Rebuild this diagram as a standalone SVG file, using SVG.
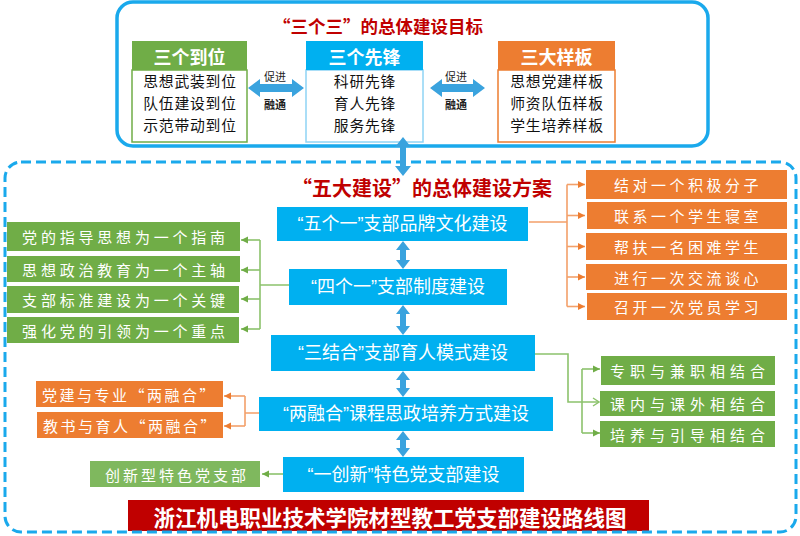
<svg xmlns="http://www.w3.org/2000/svg" width="800" height="536" viewBox="0 0 800 536">
<defs>
<style>
.cjk{font-family:"Noto Sans CJK SC","Noto Sans",sans-serif}
.mix{font-family:"Liberation Sans","Noto Sans CJK SC",sans-serif}
.title{font-weight:bold;fill:#C00000}
.hdr{font-size:18px;fill:#fff;font-weight:bold;text-anchor:middle;dominant-baseline:central}
.body{font-size:14.8px;fill:#111;text-anchor:middle;dominant-baseline:central;letter-spacing:0.8px}
.blue{fill:#00B0F0}
.btxt{font-size:18px;fill:#fff;text-anchor:middle;dominant-baseline:central}
.side{font-size:15px;fill:#fff;text-anchor:middle;dominant-baseline:central}
.arr{fill:#3AA3DE}
.gl{fill:none;stroke:#8CC26C;stroke-width:1.6}
.ol{fill:none;stroke:#F3A06A;stroke-width:1.6}
.small{font-size:11px;fill:#222;text-anchor:middle;dominant-baseline:central}
</style>
<marker id="ga" markerWidth="8" markerHeight="8" refX="7" refY="4" orient="auto" markerUnits="userSpaceOnUse"><path d="M0,0.5 L7,4 L0,7.5 z" fill="#70AD47"/></marker>
<marker id="gc" markerWidth="8" markerHeight="10" refX="7" refY="5" orient="auto" markerUnits="userSpaceOnUse"><path d="M1,1 L7,5 L1,9" fill="none" stroke="#8CC26C" stroke-width="1.4"/></marker>
<marker id="oa" markerWidth="8" markerHeight="8" refX="7" refY="4" orient="auto" markerUnits="userSpaceOnUse"><path d="M0,0.5 L7,4 L0,7.5 z" fill="#ED7D31"/></marker>
</defs>
<rect width="800" height="536" fill="#fff"/>

<!-- top section -->
<g id="top-frame">
<rect x="117" y="2" width="591" height="144" rx="16" fill="none" stroke="#1AA9EC" stroke-width="3.5"/>
<text x="378" y="25" class="cjk title" font-size="17.5" text-anchor="middle" dominant-baseline="central">“三个三”的总体建设目标</text>
</g>

<g id="box-daowei" class="cjk">
<rect x="132" y="70" width="115" height="72" fill="#fff" stroke="#70AD47" stroke-width="1.5"/>
<rect x="132" y="41" width="115" height="29" fill="#70AD47"/>
<text x="189.5" y="55.5" class="hdr">三个到位</text>
<text x="190" y="80" class="body">思想武装到位</text>
<text x="190" y="102" class="body">队伍建设到位</text>
<text x="190" y="124" class="body">示范带动到位</text>
</g>

<g id="box-xianfeng" class="cjk">
<rect x="306" y="70" width="117" height="72" fill="#fff" stroke="#8FD4F5" stroke-width="1.5"/>
<rect x="306" y="41" width="117" height="29" fill="#00B0F0"/>
<text x="364.5" y="55.5" class="hdr">三个先锋</text>
<text x="365" y="80" class="body">科研先锋</text>
<text x="365" y="102" class="body">育人先锋</text>
<text x="365" y="124" class="body">服务先锋</text>
</g>

<g id="box-yangban" class="cjk">
<rect x="498" y="70" width="117" height="72" fill="#fff" stroke="#ED7D31" stroke-width="1.5"/>
<rect x="498" y="41" width="117" height="29" fill="#ED7D31"/>
<text x="556.5" y="55.5" class="hdr">三大样板</text>
<text x="557" y="80" class="body">思想党建样板</text>
<text x="557" y="102" class="body">师资队伍样板</text>
<text x="557" y="124" class="body">学生培养样板</text>
</g>

<!-- lower frame -->
<g id="banner">
<rect x="128" y="500" width="521" height="31" fill="#C00000"/>
<text x="390" y="516" class="cjk" font-size="21.5" font-weight="bold" fill="#fff" text-anchor="middle" dominant-baseline="central">浙江机电职业技术学院材型教工党支部建设路线图</text>
</g>
<g id="bottom-frame">
<rect x="5" y="162" width="791" height="370" rx="16" fill="none" stroke="#1AA9EC" stroke-width="3" stroke-dasharray="10 5"/>
<text x="422" y="187" class="cjk title" font-size="20" text-anchor="middle" dominant-baseline="central">“五大建设”的总体建设方案</text>
</g>

<!-- connectors -->
<g id="connectors">
<polygon class="arr" points="248,88 260,79 260,84 292,84 292,79 304,88 292,97 292,92 260,92 260,97"/>
<text x="275" y="76" class="cjk small">促进</text>
<text x="275" y="104" class="cjk small" font-weight="bold">融通</text>
<polygon class="arr" points="430,88 442,79 442,84 473,84 473,79 485,88 473,97 473,92 442,92 442,97"/>
<text x="456" y="76" class="cjk small">促进</text>
<text x="456" y="104" class="cjk small" font-weight="bold">融通</text>

<polygon class="arr" points="403,137 411,147 406,147 406,166 411,166 403,176 395,166 400,166 400,147 395,147"/>
<polygon class="arr" points="403,241 410,250 406,250 406,260 410,260 403,269 396,260 400,260 400,250 396,250"/>
<polygon class="arr" points="403,305 410,314 406,314 406,326 410,326 403,335 396,326 400,326 400,314 396,314"/>
<polygon class="arr" points="403,371 410,380 406,380 406,388 410,388 403,397 396,388 400,388 400,380 396,380"/>
<polygon class="arr" points="403,431 410,440 406,440 406,448 410,448 403,457 396,448 400,448 400,440 396,440"/>

<!-- five-one orange -->
<path class="ol" d="M529,222 H567 M567,184.5 V306.5"/>
<path class="ol" d="M567,184.5 H585" marker-end="url(#oa)"/>
<path class="ol" d="M567,215.5 H585" marker-end="url(#oa)"/>
<path class="ol" d="M567,246.5 H585" marker-end="url(#oa)"/>
<path class="ol" d="M567,277 H585" marker-end="url(#oa)"/>
<path class="ol" d="M567,306.5 H585" marker-end="url(#oa)"/>

<!-- four-one green -->
<path class="gl" d="M289,285 H260 M260,240 V329"/>
<path class="gl" d="M260,240 H241" marker-end="url(#ga)"/>
<path class="gl" d="M260,270 H241" marker-end="url(#ga)"/>
<path class="gl" d="M260,299 H241" marker-end="url(#ga)"/>
<path class="gl" d="M260,329 H241" marker-end="url(#ga)"/>

<!-- three combine green -->
<path class="gl" d="M535,354 H568 V402 H599" marker-end="url(#gc)"/>
<path class="gl" d="M582,369 V433"/>
<path class="gl" d="M582,369 H600" marker-end="url(#ga)"/>
<path class="gl" d="M582,433 H600" marker-end="url(#ga)"/>

<!-- two fusion orange -->
<path class="ol" d="M259,413 H245 M245,396 V426"/>
<path class="ol" d="M245,396 H224" marker-end="url(#oa)"/>
<path class="ol" d="M245,426 H224" marker-end="url(#oa)"/>

<!-- one innovation -->
<path class="gl" d="M283,474 H262" marker-end="url(#ga)" stroke="#B5D9A0"/>
</g>

<!-- main blue nodes -->
<g id="n-wugeyi" class="mix">
<rect x="277" y="207" width="251" height="34" class="blue"/>
<text x="402.5" y="224" class="btxt">“五个一”支部品牌文化建设</text>
</g>
<g id="n-sigeyi" class="mix">
<rect x="289" y="269" width="218" height="36" class="blue"/>
<text x="398" y="287" class="btxt">“四个一”支部制度建设</text>
</g>
<g id="n-sanjiehe" class="mix">
<rect x="271" y="335" width="264" height="36" class="blue"/>
<text x="403" y="353" class="btxt">“三结合”支部育人模式建设</text>
</g>
<g id="n-liangronghe" class="mix">
<rect x="259" y="397" width="294" height="34" class="blue"/>
<text x="406" y="414" class="btxt">“两融合”课程思政培养方式建设</text>
</g>
<g id="n-yichuangxin" class="mix">
<rect x="283" y="457" width="241" height="35" class="blue"/>
<text x="403.5" y="474.5" class="btxt">“一创新”特色党支部建设</text>
</g>

<!-- right orange -->
<g id="o-1" class="cjk"><rect x="586" y="170" width="201" height="29" fill="#ED7D31"/><text x="688" y="184.5" class="side" letter-spacing="3.5">结对一个积极分子</text></g>
<g id="o-2" class="cjk"><rect x="587" y="202" width="200" height="27" fill="#ED7D31"/><text x="688" y="215.5" class="side" letter-spacing="3.5">联系一个学生寝室</text></g>
<g id="o-3" class="cjk"><rect x="586" y="233" width="201" height="27" fill="#ED7D31"/><text x="688" y="246.5" class="side" letter-spacing="3.5">帮扶一名困难学生</text></g>
<g id="o-4" class="cjk"><rect x="586" y="264" width="201" height="26" fill="#ED7D31"/><text x="688" y="277" class="side" letter-spacing="3.5">进行一次交流谈心</text></g>
<g id="o-5" class="cjk"><rect x="587" y="293" width="200" height="27" fill="#ED7D31"/><text x="688" y="306.5" class="side" letter-spacing="3.5">召开一次党员学习</text></g>

<!-- left green -->
<g id="g-1" class="cjk"><rect x="7" y="222" width="233" height="29" fill="#70AD47"/><text x="125.5" y="236.5" class="side" letter-spacing="3.8">党的指导思想为一个指南</text></g>
<g id="g-2" class="cjk"><rect x="7" y="256" width="233" height="26" fill="#70AD47"/><text x="125.5" y="269" class="side" letter-spacing="3.8">思想政治教育为一个主轴</text></g>
<g id="g-3" class="cjk"><rect x="7" y="286" width="232" height="27" fill="#70AD47"/><text x="125.5" y="299.5" class="side" letter-spacing="3.8">支部标准建设为一个关键</text></g>
<g id="g-4" class="cjk"><rect x="7" y="317" width="232" height="26" fill="#70AD47"/><text x="125.5" y="330" class="side" letter-spacing="3.8">强化党的引领为一个重点</text></g>

<!-- left orange -->
<g id="lo-1" class="cjk"><rect x="36" y="381" width="187" height="26" fill="#ED7D31"/><text x="129.5" y="394" class="side" letter-spacing="2.5">党建与专业“两融合”</text></g>
<g id="lo-2" class="cjk"><rect x="37" y="412" width="186" height="26" fill="#ED7D31"/><text x="130.5" y="425" class="side" letter-spacing="2.5">教书与育人“两融合”</text></g>

<!-- innovation green -->
<g id="g-inno" class="cjk"><rect x="90" y="461" width="170" height="26" fill="#7FB85E"/><text x="177" y="474" class="side" letter-spacing="3">创新型特色党支部</text></g>

<!-- right green -->
<g id="rg-1" class="cjk"><rect x="601" y="356" width="174" height="29" fill="#70AD47"/><text x="690" y="370.5" class="side" letter-spacing="5">专职与兼职相结合</text></g>
<g id="rg-2" class="cjk"><rect x="600" y="391" width="175" height="25" fill="#70AD47"/><text x="690" y="403.5" class="side" letter-spacing="5">课内与课外相结合</text></g>
<g id="rg-3" class="cjk"><rect x="600" y="421" width="175" height="26" fill="#70AD47"/><text x="690" y="434" class="side" letter-spacing="5">培养与引导相结合</text></g>
</svg>
